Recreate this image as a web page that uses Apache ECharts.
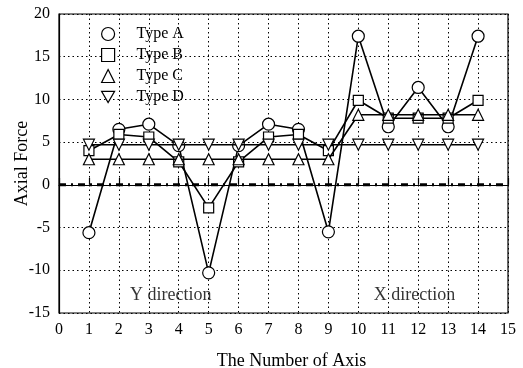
<!DOCTYPE html>
<html><head><meta charset="utf-8">
<script src="https://cdn.jsdelivr.net/npm/echarts@6/dist/echarts.min.js"></script>
<style>html,body{margin:0;padding:0;background:#fff}#c{width:523px;height:368px}</style>
</head><body><div id="c"></div>
<script>
const axisNumbers = [1,2,3,4,5,6,7,8,9,10,11,12,13,14];
const typeA = [-5.6, 6.5, 7.1, 4.6, -10.3, 4.6, 7.1, 6.5, -5.5, 17.4, 6.8, 11.4, 6.8, 17.4];
const typeB = [4.0, 5.9, 5.6, 2.7, -2.7, 2.7, 5.6, 5.9, 4.0, 9.9, 7.8, 7.8, 7.8, 9.9];
const typeC = [3.0, 3.0, 3.0, 3.0, 3.0, 3.0, 3.0, 3.0, 3.0, 8.2, 8.2, 8.2, 8.2, 8.2];
const typeD = [4.7, 4.7, 4.7, 4.7, 4.7, 4.7, 4.7, 4.7, 4.7, 4.7, 4.7, 4.7, 4.7, 4.7];
const zeroLine = [[0,0],[15,0]];
const seriesNames = ['Type A','Type B','Type C','Type D'];
const annotations = [{text:'Y direction', x:3.73, y:-12.95}, {text:'X direction', x:11.88, y:-12.95}];

const font = '"Liberation Serif","Times New Roman",serif';
const downTri = 'path://M0,0L2,0L1,1.732Z';
const symbols = ['circle','rect','triangle',downTri];
const sizes = [12,10,11,11];
const dataSets = [typeA,typeB,typeC,typeD];
const mkStyle = {color:'#fff', borderColor:'#000', borderWidth:1.2};

const chart = echarts.init(document.getElementById('c'));
const series = dataSets.map((d,i)=>({
  name: seriesNames[i], type:'line', data: d.map((v,j)=>[axisNumbers[j],v]),
  symbol: symbols[i], symbolSize: sizes[i], showAllSymbol:true,
  lineStyle:{color:'#000', width:1.6}, itemStyle: mkStyle, z: 3+i, animation:false
}));
series.unshift({
  type:'line', data: zeroLine, symbol:'none', silent:true,
  lineStyle:{color:'#000', width:3, type:[7,5,2,5]}, z:2, animation:false
});
series.push({
  type:'scatter', symbolSize:0, silent:true, animation:false,
  data: annotations.map(a=>({value:[a.x,a.y], label:{show:true, formatter:a.text, position:'inside', color:'#000', fontFamily:font, fontSize:18}}))
});

chart.setOption({
  backgroundColor:'#fff',
  animation:false,
  grid:{left:59, right:15, top:14, bottom:55, show:true, borderColor:'#000', borderWidth:1.2, containLabel:false, outerBoundsMode:'none'},
  legend:{
    orient:'vertical', left:96, top:21, itemWidth:13, itemHeight:13, itemGap:5,
    textStyle:{fontFamily:font, fontSize:16, color:'#000', padding:[0,0,0,17]},
    data: seriesNames.map((n,i)=>({name:n, icon:symbols[i], itemStyle:mkStyle}))
  },
  xAxis:{
    type:'value', min:0, max:15, interval:1,
    name:'The Number of Axis', nameLocation:'middle', nameGap:39, nameMoveOverlap:false,
    nameTextStyle:{fontFamily:font, fontSize:18, color:'#000', padding:[0,0,0,16]},
    axisLine:{show:true, lineStyle:{color:'#000', width:1.2}},
    axisTick:{show:true, inside:true, length:7, lineStyle:{color:'#000', width:1.2}},
    axisLabel:{fontFamily:font, fontSize:16, color:'#000', margin:9},
    splitLine:{show:true, lineStyle:{color:'#000', type:[1.5,3], width:1}}
  },
  yAxis:{
    type:'value', min:-15, max:20, interval:5,
    name:'Axial Force', nameLocation:'middle', nameGap:28, nameMoveOverlap:false,
    nameTextStyle:{fontFamily:font, fontSize:18, color:'#000'},
    axisLine:{show:true, lineStyle:{color:'#000', width:1.2}},
    axisTick:{show:false},
    axisLabel:{fontFamily:font, fontSize:16, color:'#000', margin:9},
    splitLine:{show:true, lineStyle:{color:'#000', type:[1.5,3], width:1}}
  },
  series: series
});
</script></body></html>
